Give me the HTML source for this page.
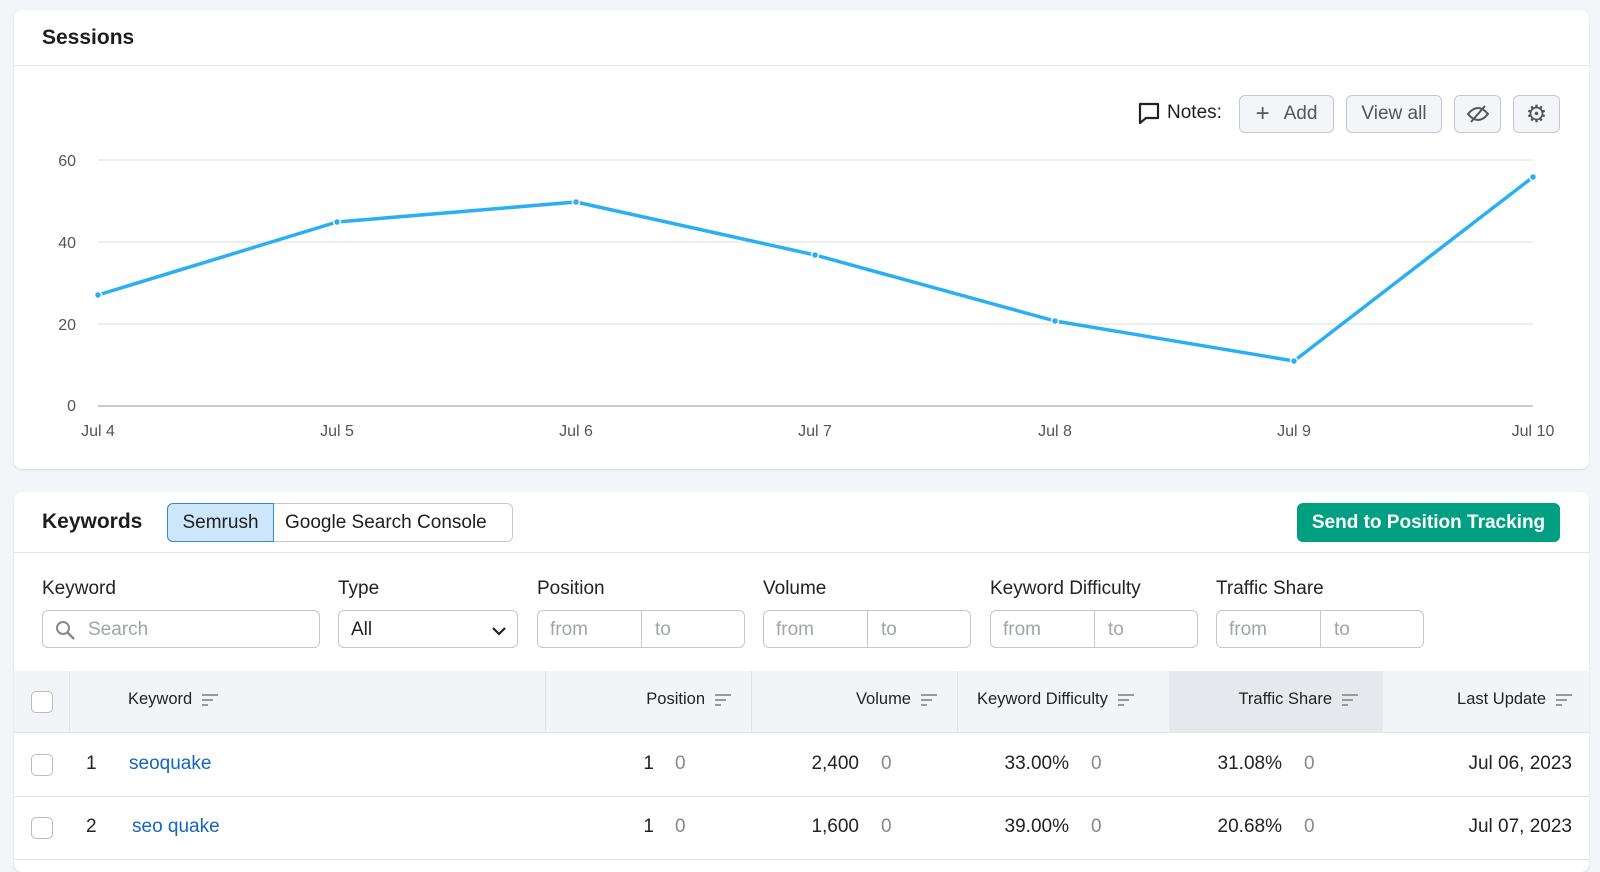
<!DOCTYPE html>
<html><head><meta charset="utf-8"><style>
*{box-sizing:border-box;margin:0;padding:0}
body{width:1600px;height:862px;background:#f4f5f9;font-family:"Liberation Sans",sans-serif;position:relative;overflow:hidden;color:#1e1e1e}
.card{position:absolute;background:#fff;border-radius:8px;box-shadow:0 1px 2px rgba(0,0,0,.12)}
.a{position:absolute;white-space:nowrap}
.btn{position:absolute;border:1px solid #c4c7cf;border-radius:6px;background:#f4f5f9;color:#555;font-size:19px;display:flex;align-items:center;justify-content:center}
.lbl{position:absolute;font-size:19px;color:#222;top:578px}
.in{position:absolute;top:610px;height:38px;border:1px solid #c4c7cf;border-radius:6px;background:#fff;font-size:19px;color:#a0a4ad}
.in span{position:absolute;top:8px}
.th{position:absolute;top:690px;font-size:16.5px;color:#222}
.sort{display:inline-block;width:16px;height:12px;vertical-align:middle;margin-left:10px;background:linear-gradient(#999,#999) 0 0/16px 2px no-repeat,linear-gradient(#999,#999) 0 5px/11px 2px no-repeat,linear-gradient(#999,#999) 0 10px/6px 2px no-repeat}
.td{position:absolute;font-size:19px;color:#222}
.g{color:#888}
.cb{position:absolute;left:31px;width:22px;height:22px;border:1px solid #bbb;border-radius:5px;background:#fff}
</style></head><body>
<div class="card" style="left:14px;top:10px;width:1575px;height:459px"></div>
<div class="a" style="left:42px;top:26px;font-size:21px;font-weight:bold">Sessions</div>
<div class="a" style="left:14px;top:65px;width:1575px;height:1px;background:#e3e5ea"></div>
<svg class="a" style="left:0;top:0" width="1600" height="470">
<g stroke="#e2e3e8" stroke-width="1.2">
<line x1="98" y1="160" x2="1533" y2="160"/><line x1="98" y1="242" x2="1533" y2="242"/><line x1="98" y1="324" x2="1533" y2="324"/></g>
<line x1="98" y1="406" x2="1533" y2="406" stroke="#aaa" stroke-width="1.2"/>
<g font-family="Liberation Sans" font-size="16" fill="#555" text-anchor="end">
<text x="76" y="166">60</text><text x="76" y="248">40</text><text x="76" y="330">20</text><text x="76" y="411">0</text></g>
<g font-family="Liberation Sans" font-size="16" fill="#555" text-anchor="middle">
<text x="98" y="436">Jul 4</text><text x="337" y="436">Jul 5</text><text x="576" y="436">Jul 6</text><text x="815" y="436">Jul 7</text><text x="1055" y="436">Jul 8</text><text x="1294" y="436">Jul 9</text><text x="1533" y="436">Jul 10</text></g>
<polyline fill="none" stroke="#2ab0f2" stroke-width="3.5" stroke-linejoin="round" points="98,295 337,222 576,202 815,255 1055,321 1294,361 1533,177"/>
<g fill="#2ab0f2" stroke="#fff" stroke-width="1.5"><circle cx="98" cy="295" r="3.5"/><circle cx="337" cy="222" r="3.5"/><circle cx="576" cy="202" r="3.5"/><circle cx="815" cy="255" r="3.5"/><circle cx="1055" cy="321" r="3.5"/><circle cx="1294" cy="361" r="3.5"/><circle cx="1533" cy="177" r="3.5"/></g>
<path d="M1140 104h18v14h-12l-6 5z" fill="none" stroke="#222" stroke-width="2.2" stroke-linejoin="round"/>
</svg>
<div class="a" style="left:1167px;top:102px;font-size:19px">Notes:</div>
<div class="btn" style="left:1239px;top:95px;width:95px;height:38px"><span style="font-size:24px;margin-right:14px">+</span>Add</div>
<div class="btn" style="left:1346px;top:95px;width:96px;height:38px">View all</div>
<div class="btn" style="left:1454px;top:95px;width:47px;height:38px"><svg width="24" height="20"><path d="M2 10q10-12 20 0q-10 12-20 0z" fill="none" stroke="#555" stroke-width="2"/><line x1="5" y1="18" x2="19" y2="2" stroke="#555" stroke-width="2"/></svg></div>
<div class="btn" style="left:1513px;top:95px;width:47px;height:38px"><span style="font-size:24px">⚙</span></div>

<div class="card" style="left:14px;top:492px;width:1575px;height:380px"></div>
<div class="a" style="left:42px;top:510px;font-size:21px;font-weight:bold">Keywords</div>
<div class="a" style="left:167px;top:503px;width:346px;height:39px;border:1px solid #c4c7cf;border-radius:6px"></div>
<div class="a" style="left:167px;top:503px;width:107px;height:39px;border:1px solid #2e8be0;border-radius:6px 0 0 6px;background:#cde6fb;font-size:19px;text-align:center;line-height:37px">Semrush</div>
<div class="a" style="left:285px;top:512px;font-size:19px">Google Search Console</div>
<div class="a" style="left:1297px;top:503px;width:263px;height:39px;border-radius:6px;background:#009f81;color:#fff;font-size:19px;font-weight:bold;text-align:center;line-height:39px">Send to Position Tracking</div>
<div class="a" style="left:14px;top:552px;width:1575px;height:1px;background:#e3e5ea"></div>

<div class="lbl" style="left:42px">Keyword</div>
<div class="lbl" style="left:338px">Type</div>
<div class="lbl" style="left:537px">Position</div>
<div class="lbl" style="left:763px">Volume</div>
<div class="lbl" style="left:990px">Keyword Difficulty</div>
<div class="lbl" style="left:1216px">Traffic Share</div>
<div class="in" style="left:42px;width:278px"><svg class="a" style="left:12px;top:9px" width="22" height="22"><circle cx="8" cy="8" r="6" fill="none" stroke="#888" stroke-width="2"/><line x1="12.5" y1="12.5" x2="19" y2="19" stroke="#888" stroke-width="2.5"/></svg><span style="left:45px">Search</span></div>
<div class="in" style="left:338px;width:180px;color:#222"><span style="left:12px">All</span><svg class="a" style="left:152px;top:14px" width="16" height="12"><path d="M2 3l6 6 6-6" fill="none" stroke="#222" stroke-width="2.2"/></svg></div>
<div class="in" style="left:537px;width:208px"><span style="left:12px">from</span><span style="left:117px">to</span><div class="a" style="left:103px;top:0;width:1px;height:36px;background:#c4c7cf"></div></div>
<div class="in" style="left:763px;width:208px"><span style="left:12px">from</span><span style="left:117px">to</span><div class="a" style="left:103px;top:0;width:1px;height:36px;background:#c4c7cf"></div></div>
<div class="in" style="left:990px;width:208px"><span style="left:12px">from</span><span style="left:117px">to</span><div class="a" style="left:103px;top:0;width:1px;height:36px;background:#c4c7cf"></div></div>
<div class="in" style="left:1216px;width:208px"><span style="left:12px">from</span><span style="left:117px">to</span><div class="a" style="left:103px;top:0;width:1px;height:36px;background:#c4c7cf"></div></div>

<div class="a" style="left:14px;top:671px;width:1575px;height:62px;background:#f3f4f8;border-bottom:1px solid #e3e5ea"></div>
<div class="a" style="left:1169px;top:671px;width:214px;height:62px;background:#e7e8ee"></div>
<div class="a" style="left:69px;top:671px;width:1px;height:62px;background:#e0e2e8"></div>
<div class="a" style="left:545px;top:671px;width:1px;height:62px;background:#e0e2e8"></div>
<div class="a" style="left:751px;top:671px;width:1px;height:62px;background:#e0e2e8"></div>
<div class="a" style="left:957px;top:671px;width:1px;height:62px;background:#e0e2e8"></div>
<div class="cb" style="top:691px"></div>
<div class="th" style="left:128px">Keyword<span class="sort"></span></div>
<div class="th" style="right:869px">Position<span class="sort"></span></div>
<div class="th" style="right:663px">Volume<span class="sort"></span></div>
<div class="th" style="left:977px">Keyword Difficulty<span class="sort"></span></div>
<div class="th" style="right:242px">Traffic Share<span class="sort"></span></div>
<div class="th" style="right:28px">Last Update<span class="sort"></span></div>

<div class="a" style="left:14px;top:796px;width:1575px;height:1px;background:#e3e5ea"></div>
<div class="a" style="left:14px;top:859px;width:1575px;height:1px;background:#e3e5ea"></div>

<div class="cb" style="top:754px"></div>
<div class="td" style="left:86px;top:753px">1</div>
<div class="td" style="left:129px;top:753px;color:#1565c0">seoquake</div>
<div class="td" style="right:946px;top:753px">1</div><div class="td g" style="left:675px;top:753px">0</div>
<div class="td" style="right:741px;top:753px">2,400</div><div class="td g" style="left:881px;top:753px">0</div>
<div class="td" style="right:531px;top:753px">33.00%</div><div class="td g" style="left:1091px;top:753px">0</div>
<div class="td" style="right:318px;top:753px">31.08%</div><div class="td g" style="left:1304px;top:753px">0</div>
<div class="td" style="right:28px;top:753px">Jul 06, 2023</div>

<div class="cb" style="top:817px"></div>
<div class="td" style="left:86px;top:816px">2</div>
<div class="td" style="left:132px;top:816px;color:#1565c0">seo quake</div>
<div class="td" style="right:946px;top:816px">1</div><div class="td g" style="left:675px;top:816px">0</div>
<div class="td" style="right:741px;top:816px">1,600</div><div class="td g" style="left:881px;top:816px">0</div>
<div class="td" style="right:531px;top:816px">39.00%</div><div class="td g" style="left:1091px;top:816px">0</div>
<div class="td" style="right:318px;top:816px">20.68%</div><div class="td g" style="left:1304px;top:816px">0</div>
<div class="td" style="right:28px;top:816px">Jul 07, 2023</div>
</body></html>
